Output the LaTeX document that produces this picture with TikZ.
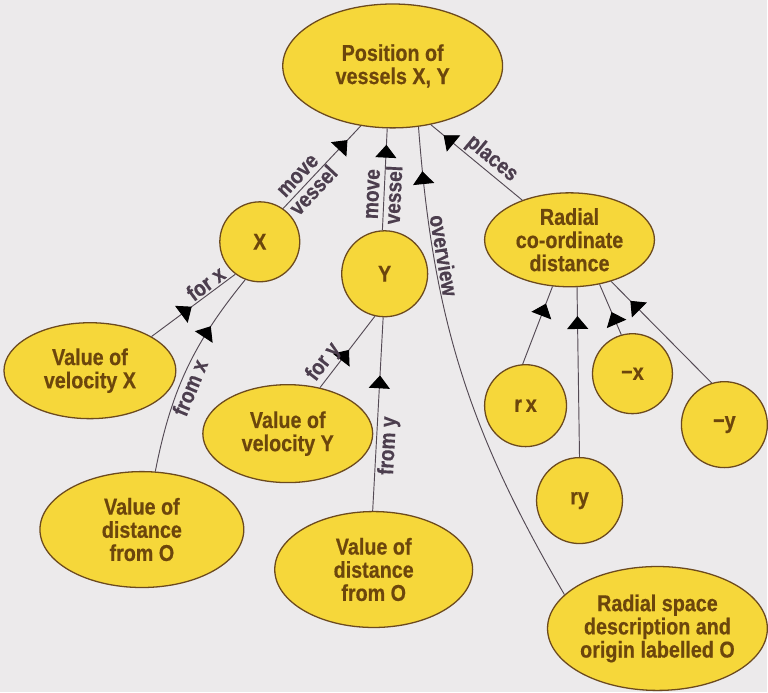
\documentclass[tikz,border=0pt]{standalone}
\usepackage{fontspec}
\setmainfont{Liberation Sans}[FakeStretch=0.86, BoldFeatures={FakeBold=0.5}]
\definecolor{paper}{RGB}{236, 234, 235}
\definecolor{bubblefill}{RGB}{246, 215, 58}
\definecolor{rim}{RGB}{108, 74, 30}
\definecolor{inkbrown}{RGB}{108, 70, 12}
\definecolor{labelgray}{RGB}{76, 62, 78}
\definecolor{linkgray}{RGB}{84, 74, 84}
\usetikzlibrary{arrows.meta, positioning, shapes.geometric, decorations.markings}
\tikzset{
	bubble/.style={ellipse, draw=rim, fill=bubblefill, line width=1.1pt, inner sep=0pt, align=center, text=inkbrown, font=\bfseries\fontsize{19.6}{19.8}\selectfont},
	roundbubble/.style={bubble, circle},
	link/.style={draw=linkgray, line width=0.8pt},
	midarrow/.style={postaction={decorate}, decoration={markings, mark=at position #1 with {\arrow[black]{Triangle[length=11pt, width=18pt]}}}},
	lbl/.style={sloped, align=center, inner sep=1.5pt, text=labelgray, font=\bfseries\fontsize{19}{19}\selectfont},
}

\begin{document}
\begin{tikzpicture}[x=0.03cm, y=0.03cm]
		\fill[paper] (0,0) rectangle (768,-693);
		\node[bubble, minimum width=6.6cm, minimum height=3.72cm] (pos) at (393,-66) {Position of\\vessels X, Y};
		\node[roundbubble, minimum size=2.4cm] (xc) at (260,-242) {X};
		\node[roundbubble, minimum size=2.58cm] (yc) at (385,-274) {Y};
		\node[bubble, minimum width=5.1cm, minimum height=2.82cm] (radial) at (570,-240) {Radial\\co-ordinate\\distance};
		\node[bubble, minimum width=5.16cm, minimum height=2.88cm] (velx) at (90,-371) {Value of\\velocity X};
		\node[bubble, minimum width=6.12cm, minimum height=3.48cm] (distx) at (142,-530) {Value of\\distance\\from O};
		\node[bubble, minimum width=5.1cm, minimum height=2.94cm] (vely) at (288,-434) {Value of\\velocity Y};
		\node[bubble, minimum width=5.94cm, minimum height=3.48cm] (disty) at (374,-570) {Value of\\distance\\from O};
		\node[roundbubble, minimum size=2.46cm] (rx) at (526,-406) {r\,x};
		\node[roundbubble, minimum size=2.4cm] (mx) at (633,-374) {−x};
		\node[roundbubble, minimum size=2.58cm] (my) at (725,-425) {−y};
		\node[roundbubble, minimum size=2.58cm] (ry) at (580,-501) {ry};
		\node[bubble, minimum width=6.6cm, minimum height=3.72cm] (desc) at (658,-629) {Radial space\\description and\\origin labelled O};

		\draw[link, midarrow=0.83] (xc.55) -- node[lbl, pos=0.3] {move\\vessel} (pos.242);
		\draw[link, midarrow=0.84] (yc.93) -- node[lbl, pos=0.35] {move\\vessel} (pos.265);
		\draw[link, midarrow=0.91] (desc.160) to[bend left=13] node[lbl, above, pos=0.75] {overview} (pos.293);
		\draw[link, midarrow=0.86] (radial.140) -- node[lbl, above, pos=0.42] {places} (pos.303);
		\draw[link, midarrow=0.48] (velx.29) -- node[lbl, above, pos=0.72] {for x} (xc.233);
		\draw[link, midarrow=0.73] (distx.77) to[bend left=14] node[lbl, below, pos=0.42] {from x} (xc.249);
		\draw[link, midarrow=0.53] (vely.55) -- node[lbl, above, pos=0.25] {for y} (yc.257);
		\draw[link, midarrow=0.7] (disty.91) -- node[lbl, below, pos=0.34] {from y} (yc.268);
		\draw[link, midarrow=0.78] (rx.94) -- (radial.250);
		\draw[link, midarrow=0.83] (ry.90) -- (radial.279);
		\draw[link, midarrow=0.45] (mx.106) -- (radial.304);
		\draw[link, midarrow=0.81] (my.107) -- (radial.315);
	\end{tikzpicture}
\end{document}
